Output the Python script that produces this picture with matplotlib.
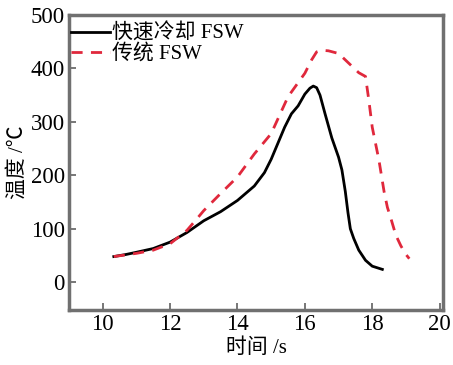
import matplotlib
matplotlib.use("Agg")
import matplotlib.pyplot as plt

plt.rcParams['font.family'] = ['Liberation Serif', 'Noto Sans CJK SC']
plt.rcParams['axes.unicode_minus'] = False

fast_t = [10.33, 10.7, 11.0, 11.5, 12.0, 12.5, 13.0, 13.5, 14.0, 14.5, 14.8, 15.0, 15.2, 15.4, 15.6, 15.8, 16.0, 16.15, 16.25, 16.35, 16.45, 16.6, 16.8, 17.0, 17.1, 17.2, 17.28, 17.35, 17.45, 17.6, 17.8, 18.0, 18.3]
fast_T = [48, 52, 56, 63, 75, 93, 115, 132, 153, 180, 205, 230, 260, 290, 315, 330, 352, 363, 367, 364, 350, 315, 270, 234, 210, 170, 130, 100, 82, 60, 41, 30, 24]

conv_t = [10.33, 11.0, 11.5, 12.0, 12.5, 12.8, 13.0, 13.5, 14.0, 14.5, 15.0, 15.5, 16.0, 16.2, 16.35, 16.5, 16.7, 17.0, 17.3, 17.6, 17.8, 17.9, 18.0, 18.2, 18.35, 18.45, 18.55, 18.7, 18.85, 19.0, 19.1]
conv_T = [48, 54, 60, 72, 97, 119, 134, 166, 197, 240, 278, 347, 391, 416, 431, 434, 433, 428, 410, 392, 385, 340, 290, 228, 170, 140, 120, 88, 68, 52, 44]

fig = plt.figure(figsize=(4.53, 3.65), dpi=100)
ax = fig.add_axes([69/453, 1-310/365, (443-69)/453, (310-15)/365])

ax.plot(fast_t, fast_T, color='black', lw=2.0, label='快速冷却 FSW')
ax.plot(conv_t, conv_T, color='#e0283c', lw=2.0, ls=(0, (4, 3)), label='传统 FSW')

ax.set_xlim(9, 20.1)
ax.set_ylim(-52, 500)
ax.set_xticks([10, 12, 14, 16, 18, 20])
ax.set_yticks([0, 100, 200, 300, 400, 500])
ax.tick_params(direction='in', length=5, width=1.2, color='#606060', labelsize=16.5, pad=3)
for s in ax.spines.values():
    s.set_color('#707070')
    s.set_linewidth(2.5)

ax.set_xlabel('时间 /s', fontsize=15, labelpad=2)
ax.set_ylabel('温度 /℃', fontsize=15, labelpad=2)

ax.legend(loc='upper left', bbox_to_anchor=(0, 1 - 7/295), frameon=False, fontsize=15,
          handlelength=1.85, handletextpad=0.1, borderaxespad=0.0, borderpad=0.1,
          labelspacing=0.0)

fig.savefig('out.png', dpi=100)
